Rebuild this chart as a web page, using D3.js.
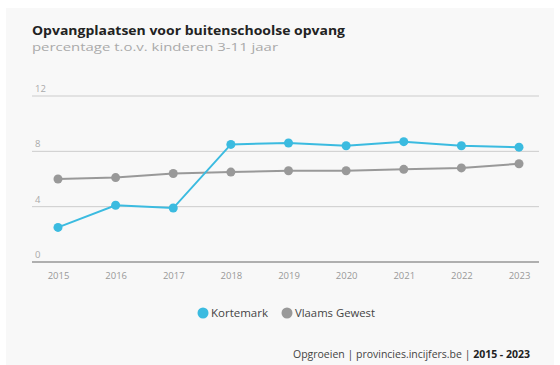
<!DOCTYPE html>
<html><head><meta charset="utf-8">
<script src="https://cdn.jsdelivr.net/npm/d3@7"></script>
<style>body{margin:0;background:#fff}svg{display:block;font-family:"Open Sans",Lato,sans-serif}</style>
</head><body><svg id="c" width="560" height="365"></svg>
<script>
const years = ["2015","2016","2017","2018","2019","2020","2021","2022","2023"];
const kortemark = [2.5, 4.1, 3.9, 8.5, 8.6, 8.4, 8.7, 8.4, 8.3];
const vlaams = [6.0, 6.1, 6.4, 6.5, 6.6, 6.6, 6.7, 6.8, 7.1];
const yTicks = [0, 4, 8, 12];
const seriesNames = ["Kortemark", "Vlaams Gewest"];
const colors = ["#3bbbe0", "#999999"];

const svg = d3.select("#c");
svg.append("rect").attr("x",6).attr("y",8).attr("width",548).attr("height",357).attr("fill","#f8f8f8");

function stretch(sel, w){
  return sel.attr("textLength", w).attr("lengthAdjust","spacingAndGlyphs");
}

const x = d3.scalePoint().domain(years).range([58,519]);
const y = d3.scaleLinear().domain([0,12]).range([262,96]);
const gx0 = 32, gx1 = 539;

stretch(svg.append("text").attr("x",32).attr("y",35).attr("font-size",12.5).attr("font-weight",700).attr("fill","#222").text("Opvangplaatsen voor buitenschoolse opvang"), 313);
stretch(svg.append("text").attr("x",32).attr("y",50.5).attr("font-size",11).attr("fill","#aaa").text("percentage t.o.v. kinderen 3-11 jaar"), 246);

const g = svg.append("g");
yTicks.forEach(t=>{
  g.append("line").attr("x1",gx0).attr("x2",gx1).attr("y1",y(t)).attr("y2",y(t))
   .attr("stroke", t===0 ? "#666" : "#ccc").attr("stroke-width", t===0?1.2:1);
  g.append("text").attr("x",35).attr("y",y(t)-4).attr("font-size",9.5).attr("fill","#aaa").text(t);
});

const xAxis = d3.axisBottom(x).tickSize(0).tickPadding(10);
const ax = svg.append("g").attr("transform",`translate(0,${y(0)})`).call(xAxis);
ax.select(".domain").remove();
ax.selectAll("text").attr("font-size",9.5).attr("fill","#999").attr("font-family","Open Sans, sans-serif");

const line = d3.line().x((d,i)=>x(years[i])).y(d=>y(d));
[vlaams, kortemark].forEach((s,k)=>{
  const c = k===0 ? colors[1] : colors[0];
  svg.append("path").datum(s).attr("d",line).attr("fill","none").attr("stroke",c).attr("stroke-width",2);
  svg.selectAll(null).data(s).enter().append("circle")
    .attr("cx",(d,i)=>x(years[i])).attr("cy",d=>y(d)).attr("r",4.5).attr("fill",c);
});

const lg = svg.append("g");
const lx = [203, 287];
const lw = [57, 80];
seriesNames.forEach((n,i)=>{
  lg.append("circle").attr("cx",lx[i]).attr("cy",313).attr("r",5.5).attr("fill",colors[i]);
  stretch(lg.append("text").attr("x",lx[i]+8).attr("y",317).attr("font-size",10).attr("fill","#444").text(n), lw[i]);
});

const cr = svg.append("text").attr("x",530).attr("y",358).attr("text-anchor","end").attr("font-size",10.5).attr("fill","#444");
cr.append("tspan").text("Opgroeien | provincies.incijfers.be | ");
cr.append("tspan").attr("font-weight",700).attr("fill","#222").text("2015 - 2023");
</script></body></html>
